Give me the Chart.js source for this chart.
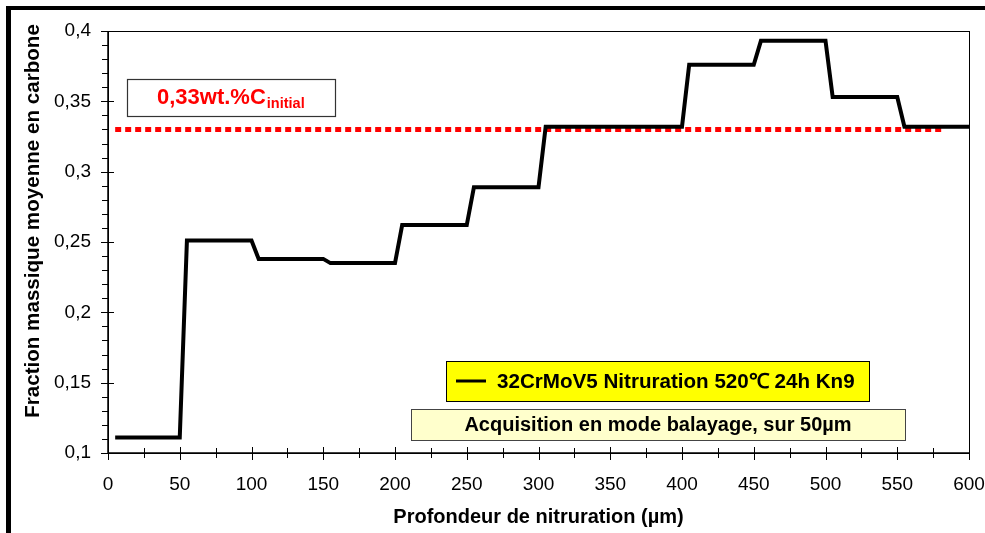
<!DOCTYPE html>
<html>
<head>
<meta charset="utf-8">
<script src="https://cdn.jsdelivr.net/npm/chart.js@4/dist/chart.umd.min.js"></script>
<style>
  html, body { margin: 0; padding: 0; background: #fff; }
  #wrap { position: relative; width: 985px; height: 533px; }
</style>
</head>
<body>
<div id="wrap"><canvas id="chart" width="985" height="533"></canvas></div>
<script>
// profondeur (µm) et fraction massique de carbone
const depths = [5, 50, 55, 100, 105, 150, 155, 200, 205, 250, 255, 300, 305, 350, 355, 400, 405, 450, 455, 500, 505, 550, 555, 600];
const carbon = [0.111, 0.111, 0.251, 0.251, 0.238, 0.238, 0.235, 0.235, 0.262, 0.262, 0.289, 0.289, 0.332, 0.332, 0.332, 0.332, 0.376, 0.376, 0.393, 0.393, 0.353, 0.353, 0.332, 0.332];

// teneur initiale
const initialX = [5, 582];
const initialC = [0.33, 0.33];

const xTicks = [0, 50, 100, 150, 200, 250, 300, 350, 400, 450, 500, 550, 600];
const yTicks = [0.1, 0.15, 0.2, 0.25, 0.3, 0.35, 0.4];
const yTickLabels = ["0,1", "0,15", "0,2", "0,25", "0,3", "0,35", "0,4"];

const yTitle = "Fraction massique moyenne en carbone";
const xTitle = "Profondeur de nitruration (\u00b5m)";
const seriesLabel = "32CrMoV5 Nitruration 520\u2103 24h Kn9";
const noteLabel = "Acquisition en mode balayage, sur 50\u00b5m";

const FONT = "'Liberation Sans', Arial, Helvetica, sans-serif";

// cadre, axes, graduations et encadrés
const decor = {
    id: "decor",
    beforeDraw(chart) {
        const ctx = chart.ctx;
        ctx.save();
        ctx.fillStyle = "#fff";
        ctx.fillRect(0, 0, chart.width, chart.height);
        ctx.fillStyle = "#000";
        ctx.fillRect(6, 6, chart.width - 6, 4);
        ctx.fillRect(6, 6, 5, chart.height - 6);

        // titre de l'axe Y (un peu décalé vers le haut comme sur l'original)
        ctx.translate(33, 221);
        ctx.rotate(-Math.PI / 2);
        ctx.font = "bold 20.6px " + FONT;
        ctx.textAlign = "center";
        ctx.textBaseline = "middle";
        ctx.fillText(yTitle, 0, 0);
        ctx.restore();
    },
    afterDatasetsDraw(chart) {
        const ctx = chart.ctx;
        const a = chart.chartArea;
        const xs = chart.scales.x, ys = chart.scales.y;
        ctx.save();
        ctx.strokeStyle = "#000";
        ctx.lineWidth = 1;
        ctx.strokeRect(a.left + 0.5, a.top + 0.5, a.right - a.left, a.bottom - a.top);
        ctx.lineWidth = 1.5;
        ctx.beginPath();
        ctx.moveTo(a.left, a.top);
        ctx.lineTo(a.left, a.bottom);
        ctx.lineTo(a.right, a.bottom);
        ctx.stroke();

        ctx.lineWidth = 1;
        ctx.beginPath();
        for (let v = 0.1; v <= 0.4001; v += 0.01) {
            const y = Math.round(ys.getPixelForValue(v)) + 0.5;
            const major = Math.abs(v * 20 - Math.round(v * 20)) < 1e-6;
            ctx.moveTo(major ? a.left - 7 : a.left - 6, y);
            ctx.lineTo(major ? a.left + 6 : a.left, y);
        }
        for (let v = 0; v <= 600; v += 25) {
            const x = Math.round(xs.getPixelForValue(v)) + 0.5;
            const major = v % 50 === 0;
            ctx.moveTo(x, major ? a.bottom - 6 : a.bottom - 5);
            ctx.lineTo(x, major ? a.bottom + 7 : a.bottom + 5);
        }
        ctx.stroke();

        // encadré teneur initiale
        ctx.fillStyle = "#fff";
        ctx.fillRect(127, 79, 209, 38);
        ctx.strokeStyle = "#333";
        ctx.lineWidth = 1.2;
        ctx.strokeRect(127.5, 79.5, 208, 37);
        ctx.fillStyle = "#ff0000";
        ctx.textBaseline = "alphabetic";
        ctx.textAlign = "left";
        ctx.font = "bold 22px " + FONT;
        const main = "0,33wt.%C";
        ctx.fillText(main, 157, 104);
        const w = ctx.measureText(main).width;
        ctx.font = "bold 14.5px " + FONT;
        ctx.fillText("initial", 157 + w + 1, 108);

        // légende
        ctx.fillStyle = "#ffff00";
        ctx.fillRect(446, 361, 423, 40);
        ctx.strokeStyle = "#000";
        ctx.lineWidth = 1;
        ctx.strokeRect(446.5, 361.5, 423, 40);
        ctx.lineWidth = 3;
        ctx.beginPath();
        ctx.moveTo(456, 381);
        ctx.lineTo(486, 381);
        ctx.stroke();
        ctx.fillStyle = "#000";
        ctx.font = "bold 20.6px " + FONT;
        ctx.textBaseline = "middle";
        ctx.fillText(seriesLabel, 497, 382);

        // note
        ctx.fillStyle = "#ffffcc";
        ctx.fillRect(411, 409, 494, 31);
        ctx.strokeStyle = "#444";
        ctx.lineWidth = 1;
        ctx.strokeRect(411.5, 409.5, 494, 31);
        ctx.fillStyle = "#000";
        ctx.font = "bold 20px " + FONT;
        ctx.textAlign = "center";
        ctx.fillText(noteLabel, 658, 425);
        ctx.restore();
    }
};

new Chart(document.getElementById("chart").getContext("2d"), {
    type: "line",
    data: {
        datasets: [
            {
                label: seriesLabel,
                data: depths.map((d, i) => ({ x: d, y: carbon[i] })),
                borderColor: "#000",
                borderWidth: 4,
                pointRadius: 0,
                tension: 0,
                fill: false,
                order: 1
            },
            {
                label: "0,33wt.%C initial",
                data: initialX.map((d, i) => ({ x: d, y: initialC[i] })),
                borderColor: "#ff0000",
                borderWidth: 5,
                borderDash: [6, 4],
                borderCapStyle: "butt",
                pointRadius: 0,
                fill: false,
                order: 2
            }
        ]
    },
    options: {
        responsive: false,
        animation: false,
        layout: { padding: { left: 0, top: 31, right: 16, bottom: 0 } },
        plugins: { legend: { display: false }, tooltip: { enabled: false } },
        scales: {
            x: {
                type: "linear",
                min: 0,
                max: 600,
                afterFit: s => { s.height = 80; s.paddingLeft = 0; s.paddingRight = 0; },
                afterBuildTicks: s => { s.ticks = xTicks.map(v => ({ value: v })); },
                grid: { display: false },
                border: { display: false },
                ticks: {
                    color: "#000",
                    padding: 12,
                    maxRotation: 0,
                    autoSkip: false,
                    font: { family: FONT, size: 19 },
                    callback: v => String(v)
                },
                title: {
                    display: true,
                    text: xTitle,
                    color: "#000",
                    padding: { top: 0, bottom: 4 },
                    font: { family: FONT, size: 20, weight: "bold" }
                }
            },
            y: {
                min: 0.1,
                max: 0.4,
                afterFit: s => { s.width = 108; s.paddingTop = 0; s.paddingBottom = 0; },
                afterBuildTicks: s => { s.ticks = yTicks.map(v => ({ value: v })); },
                grid: { display: false },
                border: { display: false },
                ticks: {
                    color: "#000",
                    padding: 9,
                    autoSkip: false,
                    font: { family: FONT, size: 19 },
                    callback: (v, i) => yTickLabels[i]
                },
                title: { display: false, text: yTitle }
            }
        }
    },
    plugins: [decor]
});
</script>
</body>
</html>
